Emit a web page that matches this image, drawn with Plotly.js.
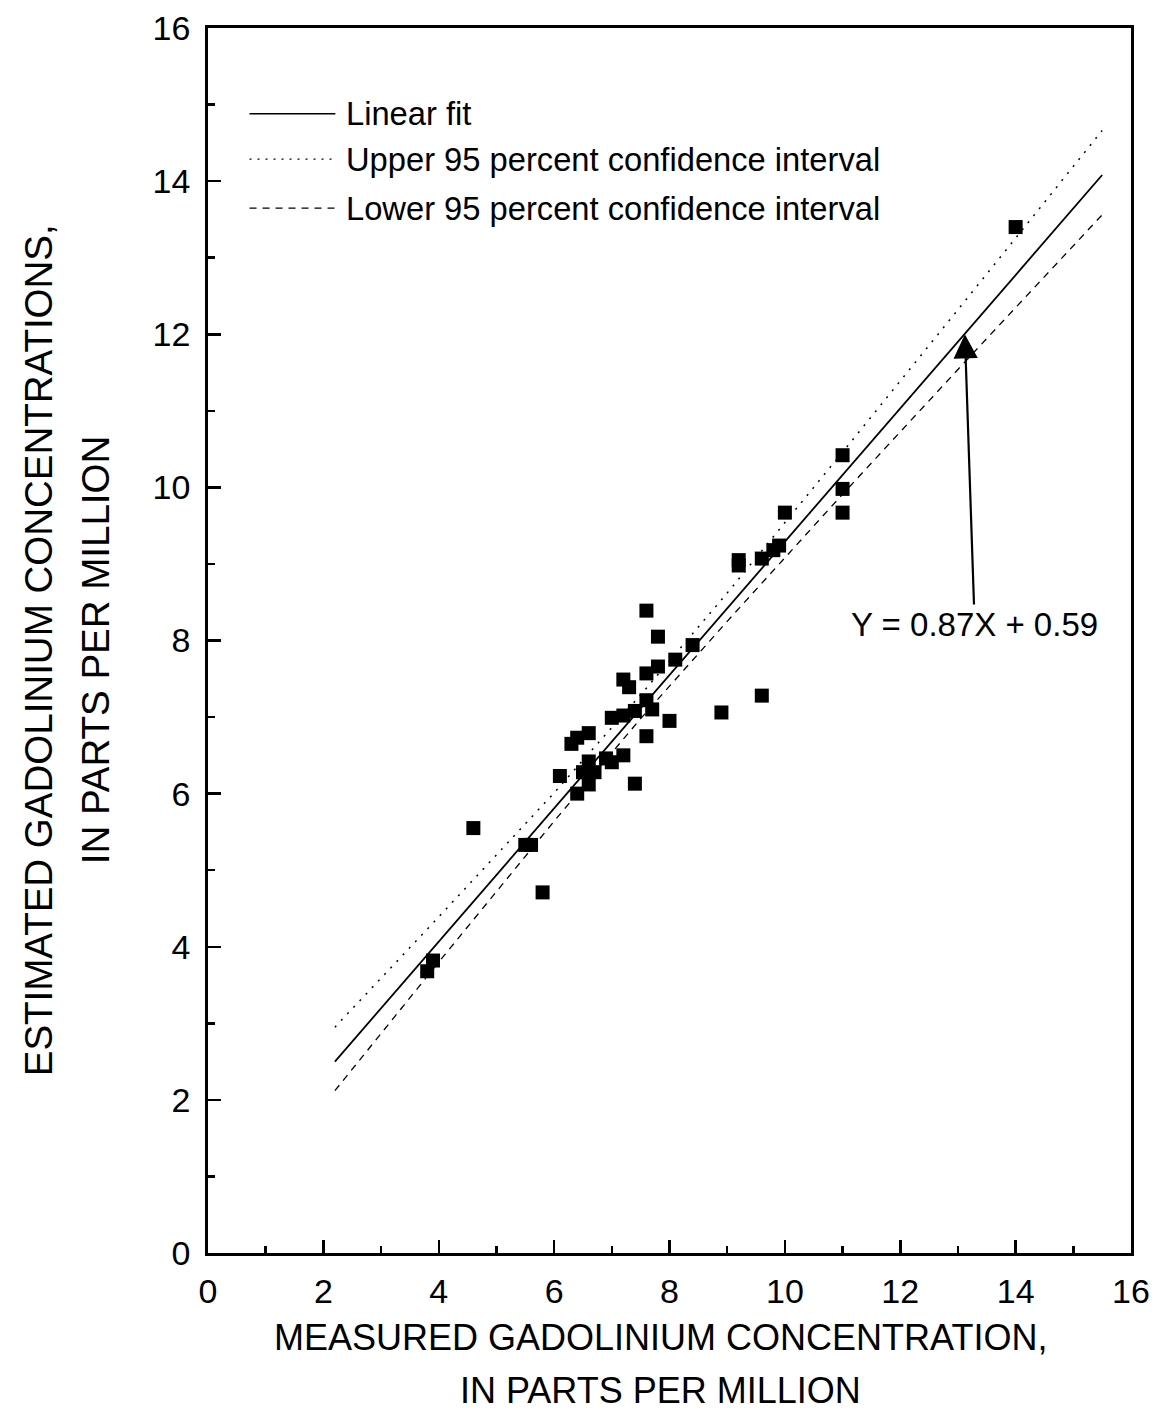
<!DOCTYPE html>
<html>
<head>
<meta charset="utf-8">
<script src="https://cdn.plot.ly/plotly-3.0.1.min.js"></script>
<style>html,body{margin:0;padding:0;background:#fff;}#chart{width:1159px;height:1413px;}</style>
</head>
<body>
<div id="chart"></div>
<script>
// Measured vs estimated gadolinium (ppm)
const measured = [3.8, 3.9, 4.6, 5.5, 5.6, 5.8, 6.1, 6.3, 6.4, 6.6, 6.4, 6.5, 6.6, 6.6, 6.7, 6.9, 7.0, 7.2, 7.4, 7.0, 7.2, 7.4, 7.6, 7.7, 7.6, 8.0, 8.9, 7.2, 7.3, 7.6, 7.8, 8.1, 8.4, 7.6, 7.8, 9.6, 9.2, 9.2, 9.6, 9.8, 9.9, 10.0, 11.0, 11.0, 11.0, 14.0];
const estimated = [3.68, 3.82, 5.55, 5.33, 5.33, 4.71, 6.23, 6.65, 6.73, 6.79, 6.0, 6.28, 6.42, 6.12, 6.28, 6.46, 6.41, 6.5, 6.13, 6.99, 7.02, 7.08, 7.22, 7.1, 6.75, 6.95, 7.06, 7.49, 7.39, 7.57, 7.66, 7.75, 7.94, 8.39, 8.05, 7.28, 8.98, 9.05, 9.07, 9.18, 9.24, 9.67, 9.67, 9.98, 10.42, 13.4];

// Linear fit Y = 0.87X + 0.59 (end points)
const fitX = [2.2, 15.5];
const fitY = [2.5, 14.08];

// 95 percent confidence bands
const bandX = [2.2, 4, 6, 7.5, 9, 11, 13, 15.5];
const upperY = [2.95, 4.39, 6.01, 7.29, 8.62, 10.46, 12.32, 14.66];
const lowerY = [2.12, 3.80, 5.64, 6.98, 8.25, 9.91, 11.54, 13.56];

const legendLabels = ['Linear fit', 'Upper 95 percent confidence interval', 'Lower 95 percent confidence interval'];
const equationText = 'Y = 0.87X + 0.59';
const arrowPoint = [13.12, 12.0];
const xTitleLines = ['MEASURED GADOLINIUM CONCENTRATION,', 'IN PARTS PER MILLION'];
const yTitleLines = ['ESTIMATED GADOLINIUM CONCENTRATIONS,', 'IN PARTS PER MILLION'];

const FONT = 'Liberation Sans, Arial, sans-serif';

const traces = [
  {x: fitX, y: fitY, mode: 'lines', line: {color: '#000', width: 1.8}, name: legendLabels[0], hoverinfo: 'skip'},
  {x: bandX, y: upperY, mode: 'lines', line: {color: '#000', width: 1.5, dash: '2px,7px'}, name: legendLabels[1], hoverinfo: 'skip'},
  {x: bandX, y: lowerY, mode: 'lines', line: {color: '#000', width: 1.3, dash: '7px,6px'}, name: legendLabels[2], hoverinfo: 'skip'},
  {x: measured, y: estimated, mode: 'markers', marker: {symbol: 'square', size: 14, color: '#000'}, name: 'Samples'}
];

// manual legend rows (paper coordinates)
const legY = [0.930, 0.893, 0.853];
const legDash = ['solid', '2px,6px', '7px,6px'];
const shapes = [];
const annotations = [];
for (let i = 0; i < 3; i++) {
  shapes.push({type: 'line', xref: 'paper', yref: 'paper', x0: 0.045, x1: 0.138, y0: legY[i], y1: legY[i],
    line: {color: '#000', width: i === 0 ? 1.5 : 1.3, dash: legDash[i]}});
  annotations.push({xref: 'paper', yref: 'paper', x: 0.147, y: legY[i], xanchor: 'left', yanchor: 'middle',
    text: legendLabels[i], showarrow: false, font: {family: FONT, size: 32.7, color: '#000'}});
}
annotations.push({x: arrowPoint[0], y: arrowPoint[1], xref: 'x', yref: 'y', axref: 'x', ayref: 'y',
  ax: 13.29, ay: 8.21, text: equationText, showarrow: true, arrowhead: 2, arrowsize: 2.2, arrowwidth: 2.2,
  arrowcolor: '#000', standoff: 0, font: {family: FONT, size: 33, color: '#000'}});

// axis titles (two lines each, placed to match the reference spacing)
annotations.push({xref: 'paper', yref: 'paper', x: 0.49, y: 0, yshift: -84, xanchor: 'center', yanchor: 'middle',
  text: xTitleLines[0], showarrow: false, font: {family: FONT, size: 36, color: '#000'}});
annotations.push({xref: 'paper', yref: 'paper', x: 0.49, y: 0, yshift: -137, xanchor: 'center', yanchor: 'middle',
  text: xTitleLines[1], showarrow: false, font: {family: FONT, size: 36, color: '#000'}});
annotations.push({xref: 'paper', yref: 'paper', x: 0, y: 0.492, xshift: -170, xanchor: 'center', yanchor: 'middle', textangle: -90,
  text: yTitleLines[0], showarrow: false, font: {family: FONT, size: 38.5, color: '#000'}});
annotations.push({xref: 'paper', yref: 'paper', x: 0, y: 0.492, xshift: -113, xanchor: 'center', yanchor: 'middle', textangle: -90,
  text: yTitleLines[1], showarrow: false, font: {family: FONT, size: 38.5, color: '#000'}});

const axisCommon = {
  range: [0, 16], dtick: 2, tick0: 0, ticks: 'inside', ticklen: 13, tickwidth: 2.5, tickcolor: '#000',
  showline: true, linewidth: 2.8, linecolor: '#000', mirror: true, showgrid: false, zeroline: false,
  tickfont: {family: FONT, size: 34, color: '#000'},
  minor: {dtick: 1, ticks: 'inside', ticklen: 7, tickwidth: 2.5, tickcolor: '#000', showgrid: false}
};

const layout = {
  width: 1159, height: 1413,
  margin: {l: 208, r: 28, t: 28, b: 160},
  paper_bgcolor: '#fff', plot_bgcolor: '#fff',
  showlegend: false,
  font: {family: FONT, color: '#000'},
  xaxis: Object.assign({}, axisCommon, {ticklabelstandoff: 6}),
  yaxis: Object.assign({}, axisCommon, {ticklabelstandoff: 8}),
  shapes: shapes,
  annotations: annotations
};

Plotly.newPlot('chart', traces, layout, {displayModeBar: false, staticPlot: true});
</script>
</body>
</html>
